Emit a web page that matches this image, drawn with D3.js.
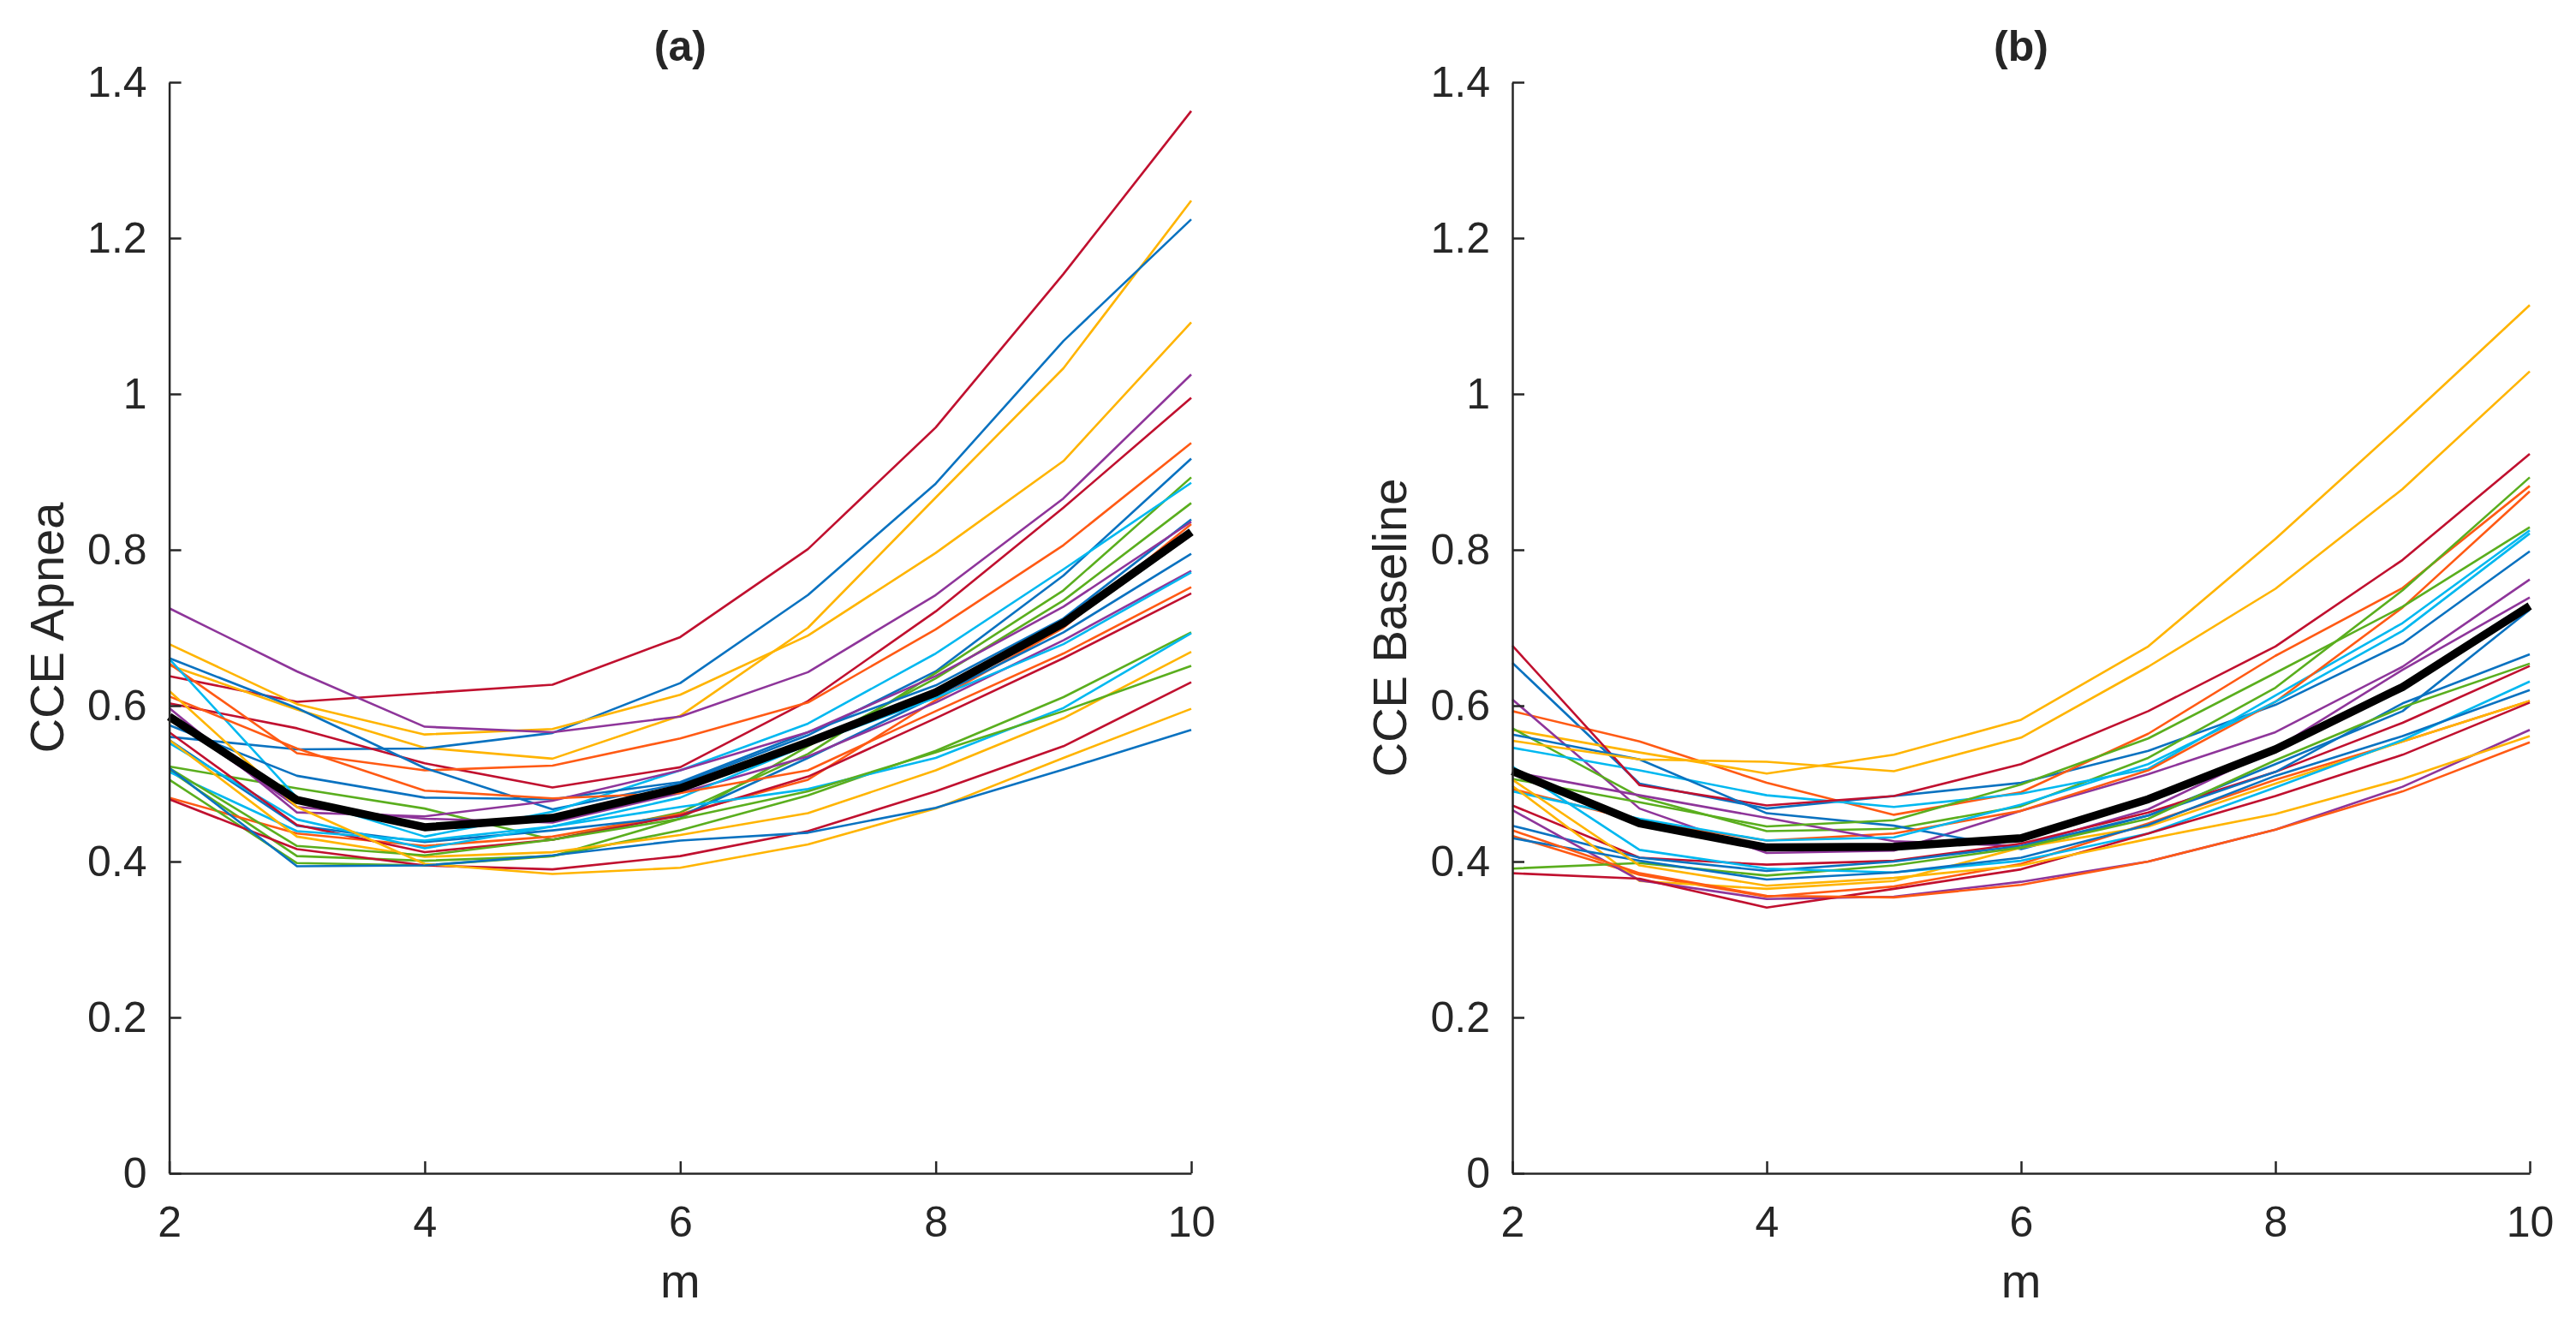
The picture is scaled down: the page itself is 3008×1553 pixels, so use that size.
<!DOCTYPE html>
<html>
<head>
<meta charset="utf-8">
<script src="https://cdnjs.cloudflare.com/ajax/libs/d3/7.8.5/d3.min.js"></script>
<style>
  body { margin: 0; background: #fff; }
  text { font-family: "Liberation Sans", Arial, sans-serif; fill: #262626; }
</style>
</head>
<body>
<div id="chart"></div>
<script>
// data
var m = [2, 3, 4, 5, 6, 7, 8, 9, 10];
var xTicks = [2, 4, 6, 8, 10];
var yTicks = [0, 0.2, 0.4, 0.6, 0.8, 1, 1.2, 1.4];
var yTickLabels = ["0", "0.2", "0.4", "0.6", "0.8", "1", "1.2", "1.4"];

// (a) apnea, one row per subject
var apnea = [
    [0.638, 0.605, 0.616, 0.627, 0.688, 0.801, 0.957, 1.154, 1.363],
    [0.652, 0.595, 0.546, 0.532, 0.587, 0.700, 0.867, 1.033, 1.248],
    [0.560, 0.544, 0.545, 0.565, 0.629, 0.742, 0.885, 1.068, 1.224],
    [0.679, 0.602, 0.563, 0.570, 0.614, 0.690, 0.796, 0.914, 1.092],
    [0.725, 0.644, 0.573, 0.566, 0.586, 0.643, 0.742, 0.866, 1.025],
    [0.603, 0.571, 0.526, 0.495, 0.521, 0.606, 0.721, 0.854, 0.995],
    [0.654, 0.539, 0.517, 0.523, 0.558, 0.604, 0.698, 0.806, 0.937],
    [0.661, 0.597, 0.520, 0.467, 0.500, 0.562, 0.644, 0.767, 0.917],
    [0.522, 0.494, 0.468, 0.428, 0.463, 0.538, 0.642, 0.748, 0.893],
    [0.660, 0.482, 0.432, 0.464, 0.517, 0.577, 0.667, 0.775, 0.886],
    [0.517, 0.407, 0.401, 0.407, 0.455, 0.548, 0.635, 0.735, 0.860],
    [0.575, 0.510, 0.482, 0.480, 0.502, 0.566, 0.626, 0.712, 0.839],
    [0.597, 0.463, 0.458, 0.478, 0.517, 0.566, 0.638, 0.727, 0.836],
    [0.482, 0.436, 0.420, 0.432, 0.461, 0.505, 0.607, 0.700, 0.833],
    [0.556, 0.446, 0.425, 0.440, 0.458, 0.533, 0.612, 0.694, 0.795],
    [0.586, 0.470, 0.455, 0.450, 0.488, 0.535, 0.604, 0.684, 0.773],
    [0.552, 0.454, 0.417, 0.445, 0.482, 0.550, 0.610, 0.679, 0.771],
    [0.612, 0.545, 0.491, 0.481, 0.488, 0.517, 0.593, 0.667, 0.752],
    [0.566, 0.447, 0.412, 0.428, 0.459, 0.509, 0.584, 0.661, 0.744],
    [0.505, 0.398, 0.395, 0.407, 0.440, 0.485, 0.542, 0.611, 0.694],
    [0.515, 0.439, 0.427, 0.445, 0.470, 0.493, 0.533, 0.597, 0.693],
    [0.556, 0.432, 0.406, 0.412, 0.434, 0.462, 0.517, 0.584, 0.669],
    [0.520, 0.420, 0.408, 0.428, 0.455, 0.490, 0.540, 0.593, 0.651],
    [0.480, 0.416, 0.395, 0.390, 0.407, 0.439, 0.490, 0.548, 0.630],
    [0.619, 0.470, 0.397, 0.384, 0.392, 0.422, 0.468, 0.533, 0.596],
    [0.520, 0.394, 0.395, 0.408, 0.427, 0.437, 0.469, 0.518, 0.569]
];
var apneaMean = [0.586, 0.479, 0.444, 0.456, 0.494, 0.553, 0.617, 0.706, 0.823];

// (b) baseline
var baseline = [
    [0.655, 0.500, 0.468, 0.484, 0.501, 0.542, 0.601, 0.680, 0.798],
    [0.593, 0.554, 0.501, 0.460, 0.489, 0.564, 0.664, 0.751, 0.882],
    [0.569, 0.540, 0.513, 0.537, 0.582, 0.676, 0.814, 0.962, 1.114],
    [0.608, 0.468, 0.411, 0.414, 0.465, 0.512, 0.566, 0.650, 0.762],
    [0.571, 0.483, 0.439, 0.442, 0.471, 0.533, 0.623, 0.748, 0.893],
    [0.546, 0.517, 0.485, 0.470, 0.487, 0.519, 0.613, 0.706, 0.825],
    [0.677, 0.498, 0.472, 0.484, 0.525, 0.593, 0.676, 0.787, 0.923],
    [0.563, 0.531, 0.462, 0.446, 0.416, 0.459, 0.525, 0.593, 0.723],
    [0.493, 0.452, 0.427, 0.436, 0.465, 0.517, 0.605, 0.726, 0.875],
    [0.555, 0.531, 0.528, 0.516, 0.559, 0.650, 0.750, 0.878, 1.029],
    [0.515, 0.485, 0.456, 0.426, 0.420, 0.467, 0.545, 0.646, 0.739],
    [0.506, 0.476, 0.445, 0.453, 0.499, 0.558, 0.642, 0.727, 0.829],
    [0.490, 0.455, 0.427, 0.431, 0.473, 0.525, 0.605, 0.696, 0.821],
    [0.472, 0.405, 0.396, 0.401, 0.423, 0.463, 0.515, 0.578, 0.651],
    [0.446, 0.405, 0.388, 0.400, 0.420, 0.459, 0.515, 0.603, 0.666],
    [0.433, 0.383, 0.355, 0.368, 0.397, 0.449, 0.505, 0.554, 0.606],
    [0.497, 0.375, 0.365, 0.375, 0.418, 0.445, 0.500, 0.554, 0.606],
    [0.466, 0.376, 0.352, 0.355, 0.374, 0.400, 0.441, 0.496, 0.569],
    [0.391, 0.398, 0.382, 0.395, 0.418, 0.455, 0.530, 0.598, 0.654],
    [0.522, 0.415, 0.391, 0.386, 0.401, 0.436, 0.495, 0.556, 0.631],
    [0.385, 0.378, 0.341, 0.365, 0.390, 0.436, 0.484, 0.537, 0.604],
    [0.430, 0.401, 0.377, 0.386, 0.405, 0.447, 0.510, 0.561, 0.620],
    [0.440, 0.385, 0.356, 0.354, 0.370, 0.400, 0.441, 0.490, 0.553],
    [0.505, 0.395, 0.369, 0.379, 0.395, 0.429, 0.461, 0.506, 0.561]
];
var baselineMean = [0.516, 0.449, 0.418, 0.419, 0.430, 0.480, 0.544, 0.624, 0.728];

// line colours (kept apart from the values)
var palette = {
    blue: "#0a72c0", orange: "#ff5a14", yellow: "#ffb400", purple: "#8e359a",
    green: "#5aae1e", cyan: "#00b8f0", red: "#c0102f"
};
var apneaColors = ["red", "yellow", "blue", "yellow", "purple", "red", "orange", "blue",
    "green", "cyan", "green", "blue", "purple", "orange", "blue", "purple", "cyan",
    "orange", "red", "green", "cyan", "yellow", "green", "red", "yellow", "blue"];
var cycle = ["blue", "orange", "yellow", "purple", "green", "cyan", "red"];
var baselineColors = baseline.map((d, i) => cycle[i % 7]);

// set up SVG
var svgWidth = 3008;
var svgHeight = 1553;

var svg = d3.select("#chart")
    .append("svg")
    .attr("width", svgWidth)
    .attr("height", svgHeight);

var yScale = d3.scaleLinear().domain([0, 1.4]).range([1370, 96]);

function drawPanel(left, right, title, yLabel, series, colors, mean) {
    var xScale = d3.scaleLinear().domain([2, 10]).range([left, right]);

    var line = d3.line()
        .x((d, i) => xScale(m[i]))
        .y(d => yScale(d));

    var g = svg.append("g");

    // subject lines
    g.selectAll(null)
        .data(series)
        .enter()
        .append("path")
        .attr("d", line)
        .attr("fill", "none")
        .attr("stroke", (d, i) => palette[colors[i]])
        .attr("stroke-width", 2.6)
        .attr("stroke-linejoin", "round");

    // mean line on top
    g.append("path")
        .attr("d", line(mean))
        .attr("fill", "none")
        .attr("stroke", "#000")
        .attr("stroke-width", 9.5)
        .attr("stroke-linejoin", "round");

    // axes, ticks pointing inwards like matlab
    var bottomAxis = d3.axisBottom(xScale)
        .tickValues(xTicks)
        .tickSizeInner(-14)
        .tickSizeOuter(0)
        .tickPadding(38);

    var leftAxis = d3.axisLeft(yScale)
        .tickValues(yTicks)
        .tickFormat((d, i) => yTickLabels[i])
        .tickSizeInner(-14)
        .tickSizeOuter(0)
        .tickPadding(26);

    var xg = g.append("g")
        .attr("transform", `translate(0, ${yScale(0)})`)
        .call(bottomAxis);

    var yg = g.append("g")
        .attr("transform", `translate(${left}, 0)`)
        .call(leftAxis);

    [xg, yg].forEach(function (a) {
        a.selectAll("path, line").attr("stroke", "#262626").attr("stroke-width", 2.5);
        a.selectAll("text")
            .attr("font-size", 50)
            .attr("fill", "#262626")
            .style("font-family", "'Liberation Sans', Arial, sans-serif");
    });

    // titles
    g.append("text")
        .attr("x", (left + right) / 2)
        .attr("y", 71)
        .attr("text-anchor", "middle")
        .attr("font-size", 50)
        .attr("font-weight", "bold")
        .attr("fill", "#000")
        .text(title);

    g.append("text")
        .attr("x", (left + right) / 2)
        .attr("y", 1515)
        .attr("text-anchor", "middle")
        .attr("font-size", 56)
        .text("m");

    g.append("text")
        .attr("transform", `translate(${left - 124}, ${(yScale(0) + yScale(1.4)) / 2}) rotate(-90)`)
        .attr("text-anchor", "middle")
        .attr("font-size", 56)
        .text(yLabel);
}

drawPanel(197.6, 1391, "(a)", "CCE Apnea", apnea, apneaColors, apneaMean);
drawPanel(1766, 2954, "(b)", "CCE Baseline", baseline, baselineColors, baselineMean);
</script>
</body>
</html>
